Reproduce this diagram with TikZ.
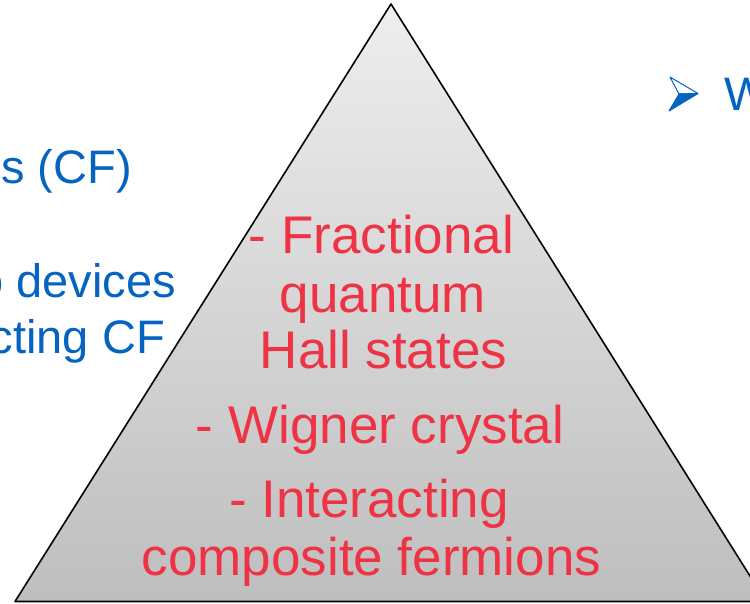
\documentclass[tikz,border=0pt]{standalone}
\usepackage{fontspec}
\setmainfont{Liberation Sans}
\definecolor{redtxt}{HTML}{EE3344}
\definecolor{bluetxt}{HTML}{0563C1}
\definecolor{shtop}{HTML}{EEEEEE}
\definecolor{shbot}{HTML}{BEBEBE}
\begin{document}
\begin{tikzpicture}[x=1pt,y=-1pt,
  redline/.style={text=redtxt,anchor=base,inner sep=0pt,font=\fontsize{53}{58}\selectfont},
  blueline/.style={text=bluetxt,anchor=base east,inner sep=0pt,font=\fontsize{47}{52}\selectfont}]
\useasboundingbox (0,0) rectangle (750,603);
\clip (0,0) rectangle (750,603);
% blue text on the left
\node[blueline] (b1) at (132,183) {s (CF)};
\node[blueline] (b2) at (176,297) {o devices};
\node[blueline] (b3) at (165,353) {cting CF};
% right bullet
\fill[white,draw=bluetxt,line width=1pt,line join=round] (670,77) -- (698,93.5) -- (679,94) -- cycle;
\fill[bluetxt,draw=bluetxt,line width=1pt,line join=round] (679,94) -- (698,93.5) -- (669,111) -- cycle;
\node[text=bluetxt,anchor=base west,inner sep=0pt,font=\fontsize{47}{52}\selectfont] (w) at (724,110) {W};
% pyramid
\shade[top color=shtop,bottom color=shbot,draw=black,line width=1.6pt,line join=round]
  (391,4) -- (766,601.5) -- (15,601.5) -- cycle;
% red text
\node[redline] (r1) at (381.5,253) {- Fractional};
\node[redline] (r2) at (383,312) {quantum};
\node[redline] (r3) at (383.5,368) {Hall states};
\node[redline] (r4) at (380,443) {- Wigner crystal};
\node[redline] (r5) at (369,517) {- Interacting};
\node[redline] (r6) at (371.5,575) {composite fermions};
\end{tikzpicture}
\end{document}
